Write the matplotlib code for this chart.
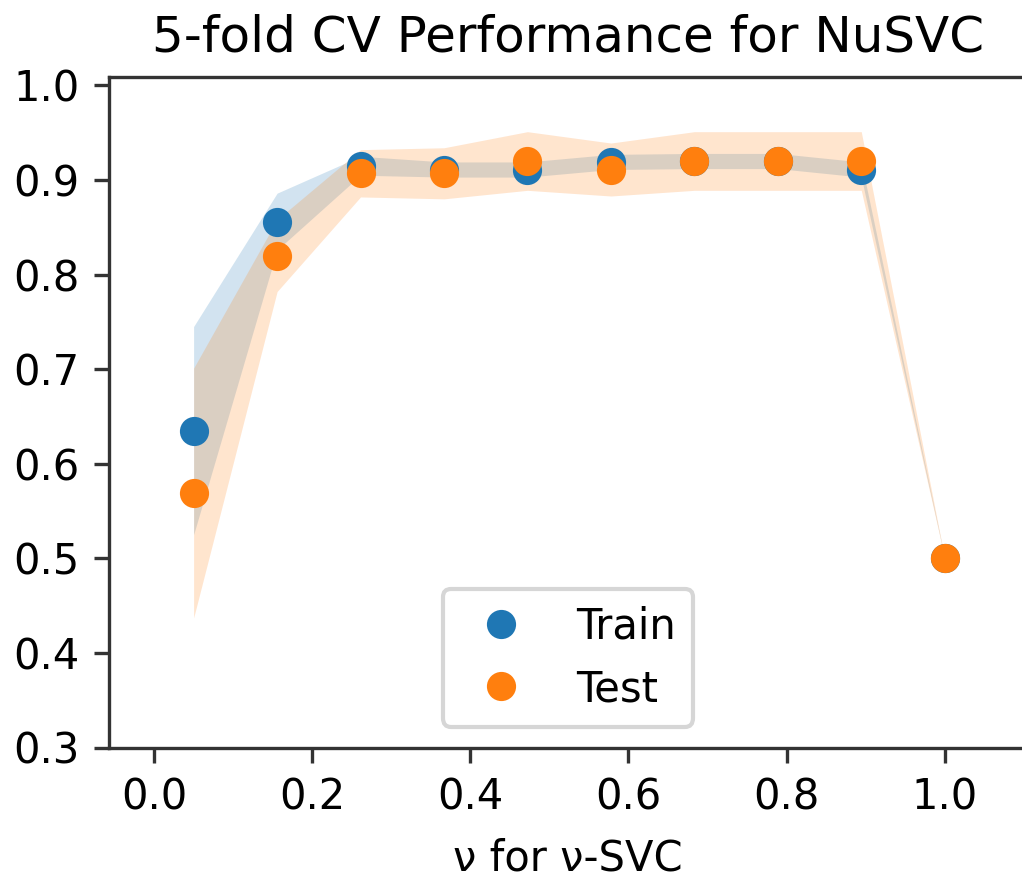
import numpy as np
import matplotlib
matplotlib.use('Agg')
import matplotlib.pyplot as plt

# nu values and 5-fold CV scores (mean / std)
nu = [0.05, 0.1556, 0.2611, 0.3667, 0.4722, 0.5778, 0.6833, 0.7889, 0.8944, 1.0]
trainMean = [0.635, 0.856, 0.915, 0.911, 0.911, 0.919, 0.920, 0.920, 0.911, 0.5]
trainStd = [0.110, 0.030, 0.010, 0.008, 0.008, 0.008, 0.008, 0.008, 0.008, 0.0]
testMean = [0.569, 0.820, 0.907, 0.907, 0.920, 0.911, 0.920, 0.920, 0.920, 0.5]
testStd = [0.132, 0.038, 0.025, 0.027, 0.031, 0.028, 0.031, 0.031, 0.031, 0.0]

DPI = 300
fig = plt.figure(figsize=(1022 / DPI, 879 / DPI), dpi=DPI)
# axes runs slightly past the right edge of the picture (right spine is cut off)
ax = fig.add_axes([109 / 1022, (879 - 747.5) / 879, (1027 - 109) / 1022, (747.5 - 77) / 879])

trainMean, trainStd = np.array(trainMean), np.array(trainStd)
testMean, testStd = np.array(testMean), np.array(testStd)

ax.fill_between(nu, trainMean - trainStd, trainMean + trainStd, color='C0', alpha=0.2, linewidth=0)
ax.fill_between(nu, testMean - testStd, testMean + testStd, color='C1', alpha=0.2, linewidth=0)
ax.plot(nu, trainMean, 'o', label='Train')
ax.plot(nu, testMean, 'o', label='Test')

ax.set_xlim(-0.057, 1.104)
ax.set_ylim(0.3, 1.0088)
ax.set_xticks([0.0, 0.2, 0.4, 0.6, 0.8, 1.0])
ax.set_yticks([0.3, 0.4, 0.5, 0.6, 0.7, 0.8, 0.9, 1.0])
for s in ax.spines.values():
	s.set_color('#333333')
ax.tick_params(color='#333333')

ax.set_title('5-fold CV Performance for NuSVC')
ax.set_xlabel('\u03bd for \u03bd-SVC', labelpad=4.6)
ax.legend(loc='lower center')

fig.savefig('out.png', dpi=DPI)
